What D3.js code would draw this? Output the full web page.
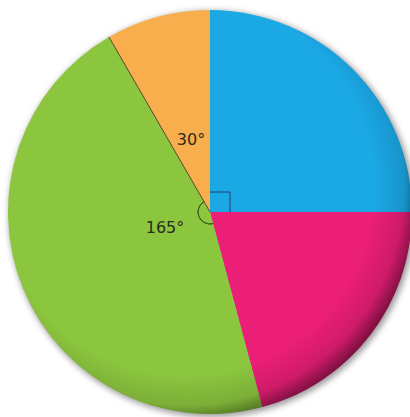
<!DOCTYPE html>
<html>
<head>
<meta charset="utf-8">
<script src="https://cdn.jsdelivr.net/npm/d3@7"></script>
<style>
  body { margin: 0; background: #fff; }
  svg { display: block; }
</style>
</head>
<body>
<div id="chart"></div>
<script>
// slices clockwise from 12 o'clock, in degrees
const categories = ["blue", "pink", "green", "orange"];
const angles = [90, 75, 165, 30];
const colors = ["#1ba9e6", "#eb1e78", "#8cc63e", "#f8ae4c"];
const angleLabels = [
  { slice: 3, text: "30°" },
  { slice: 2, text: "165°" }
];

var width = 410, height = 417;
var cx = 210, cy = 212, radius = 202;

var svg = d3.select("#chart")
    .append("svg")
    .attr("width", width)
    .attr("height", height);

var defs = svg.append("defs");

// soft shadow around the disc
var blur = defs.append("filter").attr("id", "shadow")
    .attr("x", "-10%").attr("y", "-10%").attr("width", "120%").attr("height", "120%");
blur.append("feGaussianBlur").attr("stdDeviation", 3);

// darkened rim, heavier on the lower right
var rim = defs.append("radialGradient").attr("id", "rim")
    .attr("cx", "44%").attr("cy", "44%").attr("r", "58%");
rim.append("stop").attr("offset", "0.80").attr("stop-color", "#000").attr("stop-opacity", 0);
rim.append("stop").attr("offset", "0.93").attr("stop-color", "#000").attr("stop-opacity", 0.12);
rim.append("stop").attr("offset", "1").attr("stop-color", "#000").attr("stop-opacity", 0.45);

var g = svg.append("g").attr("transform", `translate(${cx},${cy})`);

g.append("circle")
    .attr("cx", 2).attr("cy", 2)
    .attr("r", radius + 1)
    .attr("fill", "#999")
    .attr("filter", "url(#shadow)");

var pie = d3.pie().sort(null).value(d => d);
var arcs = pie(angles);
var arc = d3.arc().innerRadius(0).outerRadius(radius);

g.append("g").selectAll("path")
    .data(arcs)
    .join("path")
    .attr("d", arc)
    .attr("fill", (d, i) => colors[i]);

// dark rim overlay
g.append("circle")
    .attr("r", radius)
    .attr("fill", "url(#rim)");

// dark line between green and orange
var edgeAngle = arcs[3].startAngle;
g.append("line")
    .attr("x1", 0).attr("y1", 0)
    .attr("x2", radius * Math.sin(edgeAngle))
    .attr("y2", -radius * Math.cos(edgeAngle))
    .attr("stroke", "#5a4a2a")
    .attr("stroke-width", 1);

// right angle marker in the blue slice
var sq = 20;
g.append("path")
    .attr("d", `M0,${-sq}H${sq}V0`)
    .attr("fill", "none")
    .attr("stroke", "#2a3d6a")
    .attr("stroke-width", 1);

// small arc marking the 165° slice
var markArc = d3.arc().innerRadius(12).outerRadius(12);
g.append("path")
    .attr("d", markArc({ startAngle: arcs[2].startAngle, endAngle: arcs[2].endAngle }))
    .attr("fill", "none")
    .attr("stroke", "#3b5a22")
    .attr("stroke-width", 1);

// angle labels
var labelPos = [
  { x: -19, y: -67 },
  { x: -45, y: 21 }
];
g.selectAll("text.angle")
    .data(angleLabels)
    .join("text")
    .attr("class", "angle")
    .attr("x", (d, i) => labelPos[i].x)
    .attr("y", (d, i) => labelPos[i].y)
    .attr("text-anchor", "middle")
    .style("font-family", "DejaVu Sans, sans-serif")
    .style("font-size", "16px")
    .style("fill", "#2b2b1e")
    .text(d => d.text);
</script>
</body>
</html>
